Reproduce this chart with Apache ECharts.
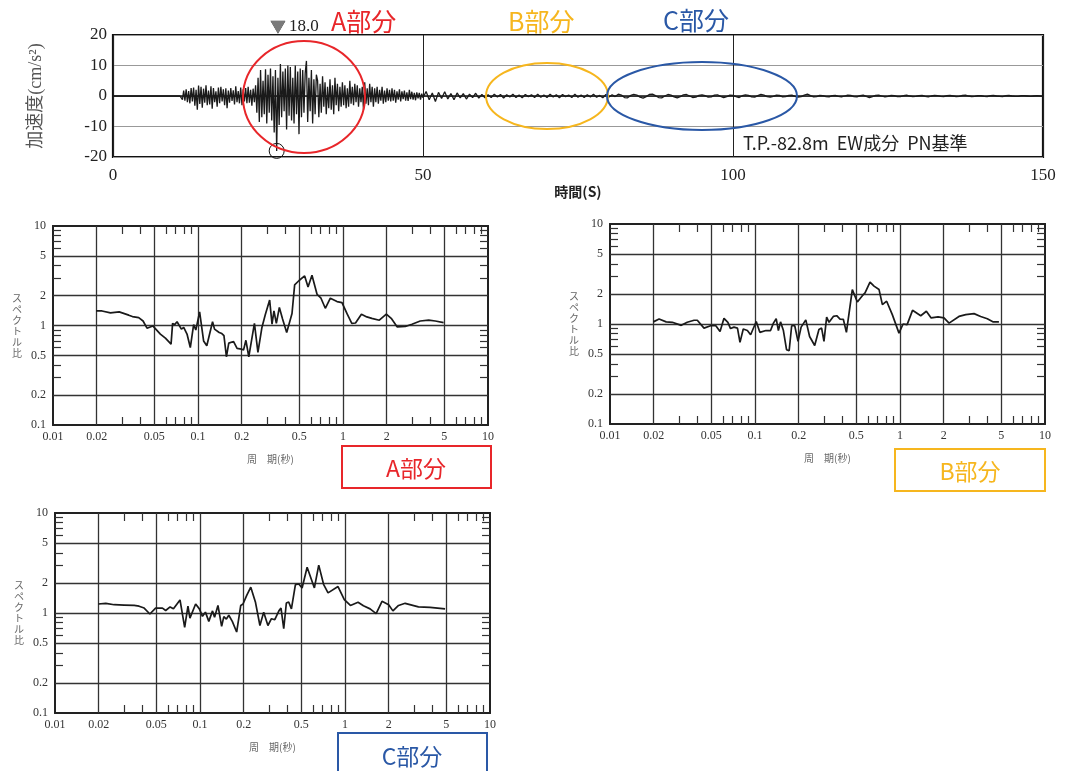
<!DOCTYPE html>
<html><head><meta charset="utf-8">
<script src="https://cdn.jsdelivr.net/npm/echarts@6/dist/echarts.min.js"></script>
<style>html,body{margin:0;padding:0;background:#fff}#main{width:1081px;height:771px}</style>
</head><body><div id="main"></div>
<script>
// ---------- Acceleration waveform (cm/s^2) ----------
const quietTimes = [0, 10.8];
const quietValues = [0, 0];
const mainStart = 11.0, mainStep = 0.2;
const accelMain = [
 0.5,-1.2,1.8,-1.5,2.2,-2.0,1.6,-2.4,2.6,-1.8,
 2.8,-3.2,2.0,-4.5,3.4,-2.6,3.0,-3.8,2.4,-2.2,
 3.5,-3.0,1.8,-2.8,3.2,-4.2,2.6,-2.0,1.5,-3.5,
 2.8,-2.4,3.0,-1.8,2.2,-3.0,2.5,-4.0,1.8,-2.2,
 2.6,-1.6,1.9,-2.8,3.2,-2.0,1.6,-2.4,2.8,-3.0,
 2.2,-1.8,2.6,-2.4,3.0,-2.2,2.0,-3.2,2.4,-2.0,
 3.5,-5.5,6.0,-8.5,8.5,-7.0,5.0,-6.0,8.8,-9.0,
 7.0,-5.5,9.0,-8.0,6.5,-12.0,8.5,-18.0,6.0,-9.5,
 10.5,-7.0,8.0,-5.0,9.0,-11.0,10.0,-6.5,9.5,-8.0,
 6.0,-9.0,10.0,-6.0,8.0,-12.5,9.0,-7.0,8.5,-5.5,
 7.5,11.5,-8.5,6.0,-5.0,8.5,-9.0,5.5,-6.0,7.0,
 5.0,-7.0,4.0,-5.5,6.5,-3.5,4.5,-6.0,3.0,-4.0,
 5.5,-4.5,3.5,-6.0,6.0,-3.0,4.0,-5.0,3.0,-3.5,
 4.5,-3.0,3.5,-4.0,2.5,-3.5,5.0,-2.5,3.0,-3.0,
 4.0,-2.0,3.5,-3.5,2.5,-2.0,3.0,-4.5,4.5,-2.5,
 2.5,-3.0,4.0,-2.0,3.0,-3.5,2.5,-2.0,3.0,-2.5,
 2.0,-1.5,3.0,-2.5,1.8,-2.0,2.5,-1.5,2.0,-1.8,
 2.5,-1.5,2.0,-2.2,1.5,-1.2,2.2,-1.8,1.5,-1.0,
 1.8,-1.5,1.2,-1.6,2.0,-1.0,1.4,-1.2,1.0,-1.4,
 1.2,-0.8,1.0,-1.2,0.8,-0.6
];
const tailStart = 50.5, tailStep = 0.5;
const accelTail = [
 1.5,-1.2,1.0,-1.8,1.2,-0.8,1.4,-1.0,0.8,-1.2,
 1.0,-0.6,0.8,-1.0,0.6,-0.5,0.9,-0.7,0.5,-0.6,
 0.4,-0.5,0.6,-0.3,0.5,-0.7,0.4,-0.3,0.6,-0.5,
 0.3,-0.6,0.5,-0.2,0.4,-0.5,0.6,-0.4,0.3,-0.5,
 0.6,-0.3,0.4,-0.6,0.5,-0.2,0.3,-0.5,0.6,-0.4,
 0.3,-0.5,0.4,-0.3,0.6,-0.4,0.2,-0.6,0.5,-0.3,
 0.4,-0.2,0.6,0.3,-0.5,-0.6,0.2,0.5,0.3,-0.4,
 -0.7,-0.2,0.5,0.6,0.1,-0.5,-0.6,0.0,0.5,0.3,
 -0.3,-0.6,-0.2,0.4,0.5,0.0,-0.5,-0.4,0.2,0.4,
 0.1,-0.4,-0.3,0.3,0.4,-0.1,-0.5,-0.2,0.3,0.2,
 -0.2,-0.5,0.1,0.4,0.2,-0.3,-0.4,0.1,0.5,0.3,
 -0.2,-0.4,-0.1,0.3,0.2,-0.3,-0.2,0.2,0.3,-0.1,
 -0.4,-0.2,0.3,0.6,0.1,-0.3,-0.2,0.2,0.1,-0.2,
 -0.3,0.1,0.2,-0.1,-0.3,0.0,0.3,0.2,-0.2,-0.3,
 0.1,0.3,-0.1,-0.5,-0.2,0.2,0.3,0.0,-0.3,-0.1,
 0.2,0.1,-0.2,-0.2,0.1,0.3,0.0,-0.2,-0.1,0.1,
 0.2,-0.1,-0.3,0.0,0.2,0.1,-0.1,-0.2,0.1,0.2,
 0.0,-0.2,-0.1,0.2,0.3,0.0,-0.2,-0.1,0.1,0.1,
 -0.1,-0.2,0.1,0.2,0.0,-0.1,-0.2,0.1,0.2,0.0,
 -0.1,-0.1,0.1,0.1,0.0,-0.1,0.0,0.1,0.0,-0.1
];
const peakTime = 26.4, peakValue = -18.0;
const peakLabel = '18.0';
const timeAxisName = '時間(S)';
const accelAxisName = '加速度(cm/s²)';
const stationNote = 'T.P.-82.8m  EW成分  PN基準';
const partNames = ['A部分', 'B部分', 'C部分'];

// ---------- Spectral ratios ----------
const periodsA = [0.0198,0.0218,0.0249,0.0286,0.0333,0.0353,0.039,0.0418,0.0445,0.0488,0.055,0.0596,0.0652,0.0668,0.069,0.0717,0.0768,0.0797,0.084,0.0885,0.0933,0.0966,0.1026,0.1093,0.115,0.126,0.130,0.134,0.140,0.146,0.151,0.157,0.163,0.176,0.186,0.199,0.206,0.214,0.224,0.245,0.259,0.276,0.291,0.312,0.324,0.334,0.347,0.364,0.383,0.409,0.445,0.464,0.50,0.544,0.574,0.611,0.662,0.705,0.755,0.818,0.909,0.984,1.07,1.15,1.22,1.34,1.46,1.58,1.78,1.99,2.15,2.36,2.69,2.99,3.41,3.90,4.33,4.94];
const ratiosA = [1.40,1.40,1.34,1.37,1.27,1.23,1.20,1.11,0.94,0.99,0.82,0.746,0.65,1.05,1.02,1.09,0.92,0.955,0.82,0.60,1.02,0.90,1.37,0.70,0.625,1.09,0.92,0.93,0.85,0.83,0.79,0.485,0.665,0.69,0.59,0.58,0.566,0.71,0.485,1.05,0.536,0.955,1.28,1.80,1.03,1.40,1.05,1.52,1.16,0.85,1.32,2.56,2.85,3.15,2.44,3.20,2.06,1.88,1.49,1.88,1.74,1.70,1.30,1.05,1.06,1.30,1.22,1.18,1.13,1.30,1.18,0.97,0.977,1.03,1.11,1.13,1.11,1.07];
const periodsB = [0.0199,0.0218,0.0244,0.0269,0.031,0.0341,0.038,0.040,0.0445,0.0494,0.0537,0.0574,0.0611,0.065,0.0678,0.0716,0.0757,0.0788,0.083,0.0886,0.0933,0.102,0.108,0.119,0.128,0.134,0.140,0.145,0.150,0.157,0.165,0.172,0.179,0.188,0.198,0.208,0.224,0.238,0.258,0.276,0.288,0.299,0.312,0.324,0.347,0.366,0.386,0.407,0.427,0.469,0.508,0.55,0.574,0.621,0.662,0.717,0.756,0.809,0.885,0.984,1.05,1.12,1.22,1.39,1.52,1.64,1.83,2.01,2.18,2.55,2.84,3.24,3.60,4.0,4.4,4.81];
const ratiosB = [1.05,1.12,1.05,1.04,0.97,1.04,1.09,1.09,0.91,0.96,0.96,0.84,1.14,1.04,0.90,0.93,0.91,0.655,0.89,0.86,0.78,1.06,0.825,0.86,0.86,1.02,1.13,0.86,1.05,0.86,0.553,0.54,0.96,0.96,0.67,0.93,1.10,0.75,0.61,0.88,0.91,0.67,1.17,1.04,1.19,1.21,1.12,1.11,0.825,2.21,1.66,1.92,2.05,2.62,2.39,2.21,1.56,1.69,1.24,0.81,1.0,0.985,1.37,1.21,1.34,1.15,1.18,1.15,1.02,1.19,1.24,1.27,1.19,1.13,1.05,1.05];
const periodsC = [0.0199,0.0224,0.0256,0.030,0.0352,0.038,0.0412,0.0451,0.0494,0.0551,0.058,0.0622,0.0656,0.0728,0.0784,0.0826,0.0852,0.0933,0.099,0.104,0.109,0.115,0.122,0.126,0.133,0.137,0.141,0.146,0.152,0.158,0.167,0.179,0.191,0.198,0.21,0.224,0.241,0.259,0.275,0.294,0.311,0.328,0.35,0.362,0.378,0.394,0.409,0.427,0.455,0.48,0.506,0.548,0.615,0.659,0.713,0.764,0.895,0.989,1.09,1.23,1.34,1.49,1.64,1.80,2.0,2.14,2.34,2.60,3.21,3.86,4.90];
const ratiosC = [1.23,1.25,1.21,1.20,1.19,1.17,1.12,0.977,1.12,1.12,1.06,1.15,1.10,1.35,0.718,1.17,0.89,1.23,1.10,0.926,1.02,0.825,1.05,0.905,1.19,1.19,0.735,0.92,0.87,0.95,0.825,0.645,1.19,1.23,1.50,1.81,1.29,0.75,1.02,0.75,0.877,0.857,1.05,1.12,0.696,1.26,1.29,1.10,1.92,1.95,1.78,2.87,1.78,3.01,1.92,1.59,1.84,1.36,1.19,1.28,1.18,1.10,0.985,1.31,1.21,1.05,1.19,1.25,1.15,1.14,1.10];

const periodTicks = [0.01,0.02,0.05,0.1,0.2,0.5,1,2,5,10];
const periodTickLabels = ['0.01','0.02','0.05','0.1','0.2','0.5','1','2','5','10'];
const periodGridLines = [0.02,0.05,0.1,0.2,0.5,1,2,5];
const periodMinorTicks = [0.03,0.04,0.06,0.07,0.08,0.09,0.3,0.4,0.6,0.7,0.8,0.9,3,4,6,7,8,9];
const ratioTicks = [0.1,0.2,0.5,1,2,5,10];
const ratioTickLabels = ['0.1','0.2','0.5','1','2','5','10'];
const ratioGridLines = [0.2,0.5,1,2,5];
const ratioMinorTicks = [0.3,0.4,0.6,0.7,0.8,0.9,3,4,6,7,8,9];
const periodAxisName = '周　期(秒)';
const ratioAxisName = 'スペクトル比';

// ---------- build ----------
const SERIF = '"Liberation Serif", "Times New Roman", serif';
const CJK = '"Noto Sans CJK JP", "Noto Sans", sans-serif';
const RED = '#e8262a', ORANGE = '#f6b61e', BLUE = '#2a58a6';

const accelData = [];
quietTimes.forEach((t, i) => accelData.push([t, quietValues[i]]));
accelMain.forEach((v, i) => accelData.push([+(mainStart + i * mainStep).toFixed(2), v]));
accelTail.forEach((v, i) => accelData.push([+(tailStart + i * tailStep).toFixed(2), v]));

function lookup(values, labels) {
  return function (v) {
    for (let i = 0; i < values.length; i++) {
      if (Math.abs(Math.log10(v / values[i])) < 1e-6) return labels[i];
    }
    return '';
  };
}

function specX(gridIndex, bottom) {
  return {
    type: 'log', logBase: 10, gridIndex: gridIndex, position: bottom ? 'bottom' : 'top',
    min: 0.01, max: 10,
    axisLine: { show: true, onZero: false, lineStyle: { color: '#222', width: 2 } },
    axisTick: { show: true, inside: true, length: 8, customValues: periodMinorTicks, lineStyle: { color: '#333', width: 1.2 } },
    axisLabel: { show: bottom, customValues: periodTicks, formatter: lookup(periodTicks, periodTickLabels),
      margin: 6, fontFamily: SERIF, fontSize: 12, color: '#333' },
    splitLine: { show: false },
    name: bottom ? periodAxisName : '', nameLocation: 'middle', nameGap: 29,
    nameTextStyle: { fontFamily: CJK, fontSize: 10, color: '#666' }
  };
}
function specY(gridIndex, left) {
  return {
    type: 'log', logBase: 10, gridIndex: gridIndex, position: left ? 'left' : 'right',
    min: 0.1, max: 10,
    axisLine: { show: true, onZero: false, lineStyle: { color: '#222', width: 2 } },
    axisTick: { show: true, inside: true, length: 8, customValues: ratioMinorTicks, lineStyle: { color: '#333', width: 1.2 } },
    axisLabel: { show: left, customValues: ratioTicks, formatter: lookup(ratioTicks, ratioTickLabels),
      margin: 7, fontFamily: SERIF, fontSize: 12, color: '#333' },
    splitLine: { show: false },
    name: left ? ratioAxisName.split('').join('\n') : '', nameLocation: 'middle', nameRotate: 0, nameGap: 31,
    nameTextStyle: { fontFamily: CJK, fontSize: 10, color: '#666', lineHeight: 11 }
  };
}
function specSeries(xi, yi, periods, ratios) {
  const n = Math.min(periods.length, ratios.length);
  const data = [];
  for (let i = 0; i < n; i++) data.push([periods[i], ratios[i]]);
  return {
    type: 'line', xAxisIndex: xi, yAxisIndex: yi, data: data, symbol: 'none', animation: false,
    lineStyle: { color: '#1a1a1a', width: 1.7 }, z: 5,
    markLine: {
      silent: true, symbol: 'none', animation: false, label: { show: false },
      lineStyle: { color: '#333', width: 1.3, type: 'solid' },
      data: periodGridLines.map(v => ({ xAxis: v })).concat(ratioGridLines.map(v => ({ yAxis: v })))
    }
  };
}

const option = {
  backgroundColor: '#fff',
  animation: false,
  grid: [
    { left: 113, top: 35, width: 930, height: 122, show: true, borderColor: '#111', borderWidth: 2.2, backgroundColor: 'transparent' },
    { left: 53, top: 226, width: 435, height: 199, show: true, borderColor: '#333', borderWidth: 1.5, backgroundColor: 'transparent' },
    { left: 610, top: 224, width: 435, height: 200, show: true, borderColor: '#333', borderWidth: 1.5, backgroundColor: 'transparent' },
    { left: 55, top: 513, width: 435, height: 200, show: true, borderColor: '#333', borderWidth: 1.5, backgroundColor: 'transparent' }
  ],
  xAxis: [
    { type: 'value', gridIndex: 0, min: 0, max: 150, interval: 50,
      axisLine: { show: false }, axisTick: { show: false },
      axisLabel: { fontFamily: SERIF, fontSize: 17, color: '#222', margin: 10 },
      splitLine: { show: true, lineStyle: { color: '#222', width: 1 } },
      name: timeAxisName, nameLocation: 'middle', nameGap: 15,
      nameTextStyle: { fontFamily: CJK, fontSize: 14, fontWeight: 'bold', color: '#222' } },
    specX(1, true), specX(1, false),
    specX(2, true), specX(2, false),
    specX(3, true), specX(3, false)
  ],
  yAxis: [
    { type: 'value', gridIndex: 0, min: -20, max: 20, interval: 10,
      axisLine: { show: false }, axisTick: { show: false },
      axisLabel: { fontFamily: SERIF, fontSize: 17, color: '#222', margin: 6 },
      splitLine: { show: true, lineStyle: { color: '#999', width: 1 } },
      name: accelAxisName, nameLocation: 'middle', nameRotate: 90, nameGap: 68,
      nameTextStyle: { fontFamily: SERIF + ', ' + CJK, fontSize: 18, color: '#555' } },
    specY(1, true), specY(1, false),
    specY(2, true), specY(2, false),
    specY(3, true), specY(3, false)
  ],
  series: [
    { type: 'line', xAxisIndex: 0, yAxisIndex: 0, data: accelData, symbol: 'none', sampling: null,
      lineStyle: { color: '#1a1a1a', width: 1.3 }, z: 5,
      markLine: { silent: true, symbol: 'none', label: { show: false }, lineStyle: { color: '#111', width: 1.6, type: 'solid' }, data: [{ yAxis: 0 }] },
      markPoint: { silent: true, symbol: 'circle', symbolSize: 15, label: { show: false },
        itemStyle: { color: 'rgba(0,0,0,0)', borderColor: '#111', borderWidth: 1 },
        data: [{ coord: [peakTime, peakValue] }] } },
    specSeries(1, 1, periodsA, ratiosA),
    specSeries(3, 3, periodsB, ratiosB),
    specSeries(5, 5, periodsC, ratiosC)
  ],
  graphic: [
    { type: 'ellipse', shape: { cx: 304, cy: 97, rx: 61, ry: 56 }, style: { fill: 'transparent', stroke: RED, lineWidth: 2 }, z: 100 },
    { type: 'ellipse', shape: { cx: 547, cy: 96, rx: 61, ry: 33 }, style: { fill: 'transparent', stroke: ORANGE, lineWidth: 2 }, z: 100 },
    { type: 'ellipse', shape: { cx: 702, cy: 96, rx: 95, ry: 34 }, style: { fill: 'transparent', stroke: BLUE, lineWidth: 2 }, z: 100 },
    { type: 'text', x: 278, y: 26, z: 100, style: { text: '▼', fill: '#7a7a7a', stroke: '#333', lineWidth: 0.6, font: '15px ' + CJK, align: 'center', verticalAlign: 'middle', textAlign: 'center', textVerticalAlign: 'middle' } },
    { type: 'text', x: 289, y: 27, z: 100, style: { text: peakLabel, fill: '#222', font: '17px ' + SERIF, align: 'left', verticalAlign: 'middle', textAlign: 'left', textVerticalAlign: 'middle' } },
    { type: 'text', x: 331, y: 21, z: 100, style: { text: partNames[0], fill: RED, font: '25px ' + CJK, align: 'left', verticalAlign: 'middle', textAlign: 'left', textVerticalAlign: 'middle' } },
    { type: 'text', x: 508, y: 21, z: 100, style: { text: partNames[1], fill: ORANGE, font: '25px ' + CJK, align: 'left', verticalAlign: 'middle', textAlign: 'left', textVerticalAlign: 'middle' } },
    { type: 'text', x: 663, y: 20, z: 100, style: { text: partNames[2], fill: BLUE, font: '25px ' + CJK, align: 'left', verticalAlign: 'middle', textAlign: 'left', textVerticalAlign: 'middle' } },
    { type: 'text', x: 743, y: 143, z: 100, style: { text: stationNote, fill: '#222', font: '18px ' + CJK, align: 'left', verticalAlign: 'middle', textAlign: 'left', textVerticalAlign: 'middle' } },
    { type: 'rect', shape: { x: 342, y: 446, width: 149, height: 42 }, style: { fill: 'transparent', stroke: RED, lineWidth: 2 }, z: 100 },
    { type: 'text', x: 416, y: 468, z: 100, style: { text: partNames[0], fill: RED, font: '23px ' + CJK, align: 'center', verticalAlign: 'middle', textAlign: 'center', textVerticalAlign: 'middle' } },
    { type: 'rect', shape: { x: 895, y: 449, width: 150, height: 42 }, style: { fill: 'transparent', stroke: ORANGE, lineWidth: 2 }, z: 100 },
    { type: 'text', x: 970, y: 471, z: 100, style: { text: partNames[1], fill: ORANGE, font: '23px ' + CJK, align: 'center', verticalAlign: 'middle', textAlign: 'center', textVerticalAlign: 'middle' } },
    { type: 'rect', shape: { x: 338, y: 733, width: 149, height: 50 }, style: { fill: 'transparent', stroke: BLUE, lineWidth: 2 }, z: 100 },
    { type: 'text', x: 412, y: 756, z: 100, style: { text: partNames[2], fill: BLUE, font: '23px ' + CJK, align: 'center', verticalAlign: 'middle', textAlign: 'center', textVerticalAlign: 'middle' } }
  ]
};

const chart = echarts.init(document.getElementById('main'), null, { renderer: 'canvas', width: 1081, height: 771 });
chart.setOption(option);
</script></body></html>
